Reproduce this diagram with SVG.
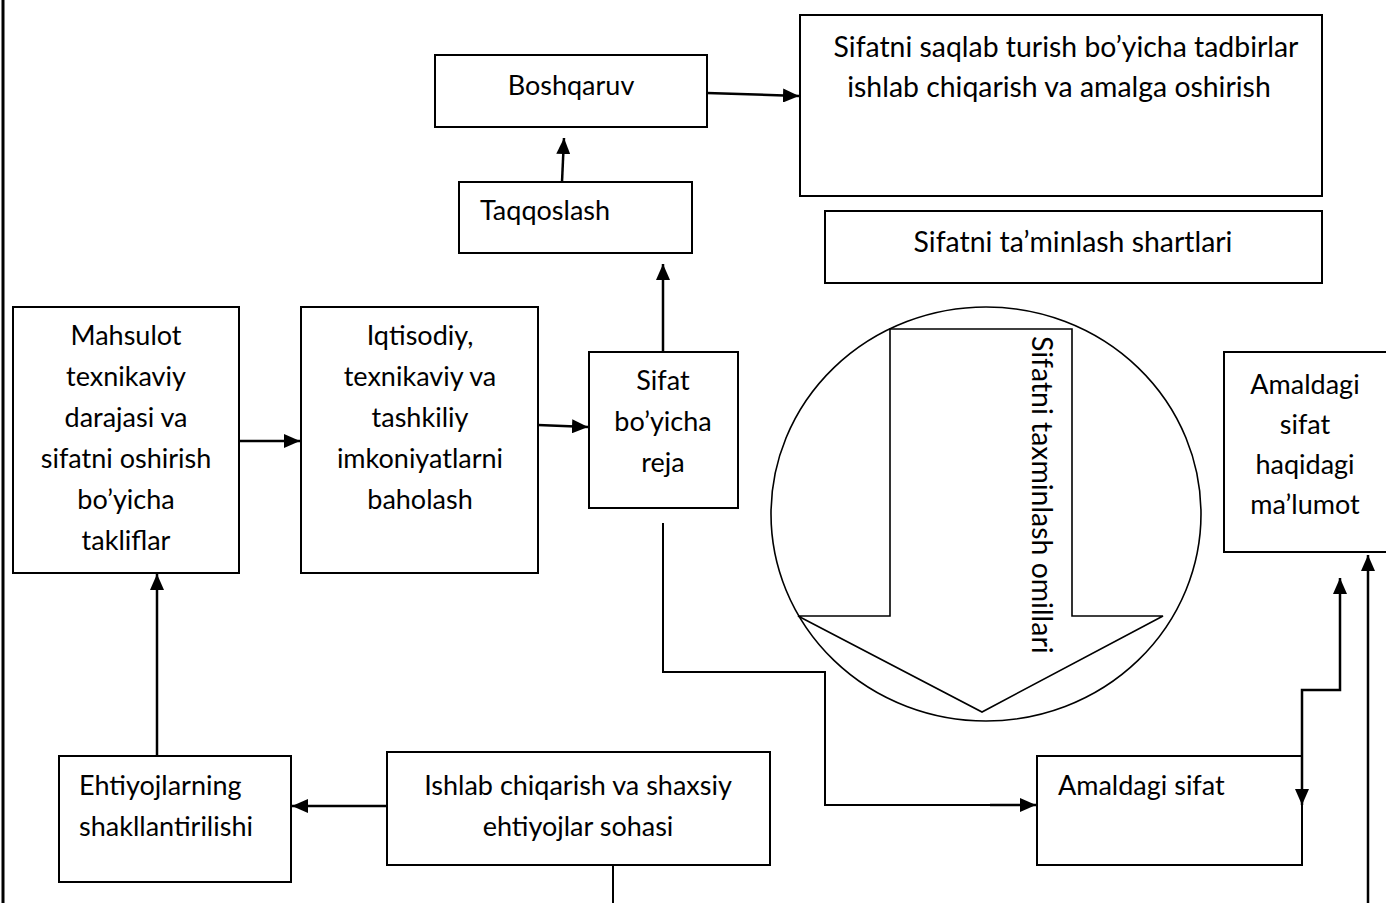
<svg xmlns="http://www.w3.org/2000/svg" width="1386" height="903" viewBox="0 0 1386 903">
<style>
.box{fill:#fff;stroke:#000;stroke-width:2}
.t{font-family:Lato,"Liberation Sans",sans-serif;font-size:27px;fill:#000}
.big{font-size:28.4px}
.c{text-anchor:middle}
.con{fill:none;stroke:#000;stroke-width:2.5}
.thin{fill:none;stroke:#000;stroke-width:2}
.shape{fill:none;stroke:#000;stroke-width:1.6}
</style>
<defs>
<marker id="ah" markerUnits="userSpaceOnUse" markerWidth="16" markerHeight="14" refX="16" refY="7" orient="auto-start-reverse" viewBox="0 0 16 14">
<path d="M0,0 L16,7 L0,14 z" fill="#000"/>
</marker>
</defs>
<rect width="1386" height="903" fill="#fff"/>
<line x1="3" y1="0" x2="3" y2="903" stroke="#000" stroke-width="3"/>

<g id="boshqaruv"><rect class="box" x="435" y="55" width="272" height="72"/><text class="t c" x="571" y="95">Boshqaruv</text></g>
<g id="taqqoslash"><rect class="box" x="459" y="182" width="233" height="71"/><text class="t" x="480" y="220">Taqqoslash</text></g>
<g id="tadbirlar"><rect class="box" x="800" y="15" width="522" height="181"/><text class="t big c" x="1066" y="57">Sifatni saqlab turish bo’yicha tadbirlar</text><text class="t big c" x="1059" y="97">ishlab chiqarish va amalga oshirish</text></g>
<g id="shartlari"><rect class="box" x="825" y="211" width="497" height="72"/><text class="t big c" x="1073" y="252">Sifatni ta’minlash shartlari</text></g>
<g id="mahsulot"><rect class="box" x="13" y="307" width="226" height="266"/>
<text class="t c" x="126" y="345">Mahsulot</text><text class="t c" x="126" y="386">texnikaviy</text><text class="t c" x="126" y="427">darajasi va</text><text class="t c" x="126" y="468">sifatni oshirish</text><text class="t c" x="126" y="509">bo’yicha</text><text class="t c" x="126" y="550">takliflar</text></g>
<g id="iqtisodiy"><rect class="box" x="301" y="307" width="237" height="266"/>
<text class="t c" x="420" y="345">Iqtisodiy,</text><text class="t c" x="420" y="386">texnikaviy va</text><text class="t c" x="420" y="427">tashkiliy</text><text class="t c" x="420" y="468">imkoniyatlarni</text><text class="t c" x="420" y="509">baholash</text></g>
<g id="reja"><rect class="box" x="589" y="352" width="149" height="156"/>
<text class="t c" x="663" y="390">Sifat</text><text class="t c" x="663" y="431">bo’yicha</text><text class="t c" x="663" y="472">reja</text></g>
<g id="omillar">
<ellipse class="shape" cx="986" cy="514" rx="215" ry="207"/>
<polygon class="shape" points="890,329 1072,329 1072,616 1163,616 982,712 798,616 890,616"/>
<text class="t big" transform="translate(1032,336) rotate(90)">Sifatni taxminlash omillari</text>
</g>
<g id="malumot"><rect class="box" x="1224" y="352" width="170" height="200"/>
<text class="t c" x="1305" y="394">Amaldagi</text><text class="t c" x="1305" y="434">sifat</text><text class="t c" x="1305" y="474">haqidagi</text><text class="t c" x="1305" y="514">ma’lumot</text></g>
<g id="amaldagi"><rect class="box" x="1037" y="756" width="265" height="109"/><text class="t" x="1058" y="795">Amaldagi sifat</text></g>
<g id="ehtiyoj"><rect class="box" x="59" y="756" width="232" height="126"/><text class="t" x="79" y="795">Ehtiyojlarning</text><text class="t" x="79" y="836">shakllantirilishi</text></g>
<g id="ishlab"><rect class="box" x="387" y="752" width="383" height="113"/><text class="t c" x="578" y="795">Ishlab chiqarish va shaxsiy</text><text class="t c" x="578" y="836">ehtiyojlar sohasi</text></g>

<g id="connectors">
<line class="con" x1="707" y1="93" x2="799" y2="96" marker-end="url(#ah)"/>
<line class="con" x1="562" y1="182" x2="564" y2="138" marker-end="url(#ah)"/>
<line class="con" x1="663" y1="352" x2="663" y2="264" marker-end="url(#ah)"/>
<line class="con" x1="239" y1="441" x2="300" y2="441" marker-end="url(#ah)"/>
<line class="con" x1="538" y1="425" x2="588" y2="427" marker-end="url(#ah)"/>
<polyline class="thin" points="663,523 663,672 825,672 825,805 1000,805"/>
<line class="con" x1="990" y1="805" x2="1036" y2="805" marker-end="url(#ah)"/>
<path class="con" d="M1302,805 L1302,690 L1340,690 L1340,578" marker-start="url(#ah)" marker-end="url(#ah)"/>
<line class="con" x1="1368" y1="903" x2="1368" y2="555" marker-end="url(#ah)"/>
<line class="con" x1="387" y1="806" x2="292" y2="806" marker-end="url(#ah)"/>
<line class="con" x1="157" y1="756" x2="157" y2="574" marker-end="url(#ah)"/>
<line class="thin" x1="613" y1="865" x2="613" y2="903"/>
</g>
</svg>
